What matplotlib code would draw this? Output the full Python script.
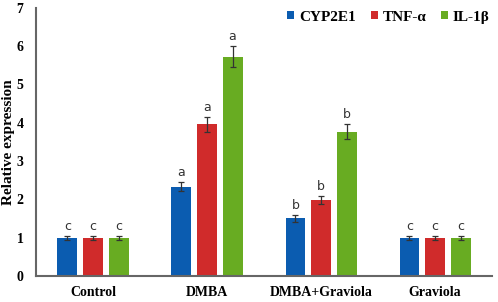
import matplotlib.pyplot as plt
import numpy as np

groups = ['Control', 'DMBA', 'DMBA+Graviola', 'Graviola']
series = ['CYP2E1', 'TNF-α', 'IL-1β']
colors = ['#0B5CB0', '#D02B2B', '#68AC22']

cyp2e1 = [1.00, 2.33, 1.51, 1.00]
tnf = [1.00, 3.96, 1.98, 0.99]
il1b = [1.00, 5.73, 3.77, 0.99]
cyp2e1_err = [0.05, 0.12, 0.09, 0.05]
tnf_err = [0.05, 0.20, 0.11, 0.05]
il1b_err = [0.05, 0.27, 0.19, 0.05]
cyp2e1_sig = ['c', 'a', 'b', 'c']
tnf_sig = ['c', 'a', 'b', 'c']
il1b_sig = ['c', 'a', 'b', 'c']

values = [cyp2e1, tnf, il1b]
errors = [cyp2e1_err, tnf_err, il1b_err]
sigs = [cyp2e1_sig, tnf_sig, il1b_sig]

fig = plt.figure(figsize=(4.98, 3.02), dpi=100)
ax = fig.add_axes([0.0723, 0.086, 0.9157, 0.888])

x = np.arange(len(groups)) + 0.5
width = 0.175
step = 0.224
serif = 'Liberation Serif'

for i in range(3):
    pos = x + (i - 1) * step
    ax.bar(pos, values[i], width, color=colors[i], label=series[i],
           yerr=errors[i], capsize=2.5,
           error_kw=dict(ecolor='#333333', elinewidth=0.9, capthick=0.9))
    for p, v, e, s in zip(pos, values[i], errors[i], sigs[i]):
        ax.text(p, v + e + 0.08, s, ha='center', va='bottom', fontsize=9,
                color='#333333', family='DejaVu Sans')

ax.set_xlim(0, 4)
ax.set_ylim(0, 7)
ax.set_xticks(x)
ax.set_xticklabels(groups, fontfamily=serif, fontweight='bold', fontsize=10)
ax.set_yticks(range(0, 8))
ax.set_yticklabels([str(t) for t in range(0, 8)], fontfamily=serif,
                   fontweight='bold', fontsize=10)
ax.tick_params(length=0)
ax.tick_params(axis='y', pad=9)
ax.tick_params(axis='x', pad=7)
ax.set_ylabel('Relative expression', fontfamily=serif, fontweight='bold',
              fontsize=11, labelpad=1)
for s in ['top', 'right']:
    ax.spines[s].set_visible(False)
for s in ['left', 'bottom']:
    ax.spines[s].set_color('#666666')
    ax.spines[s].set_linewidth(1.5)

ax.legend(loc='upper right', bbox_to_anchor=(1.015, 1.024), ncol=3, frameon=False,
          prop=dict(family=serif, weight='bold', size=11),
          handlelength=0.45, handleheight=0.45, handletextpad=0.3,
          columnspacing=1.0, borderaxespad=0.2)

fig.savefig('out.png', dpi=100)
